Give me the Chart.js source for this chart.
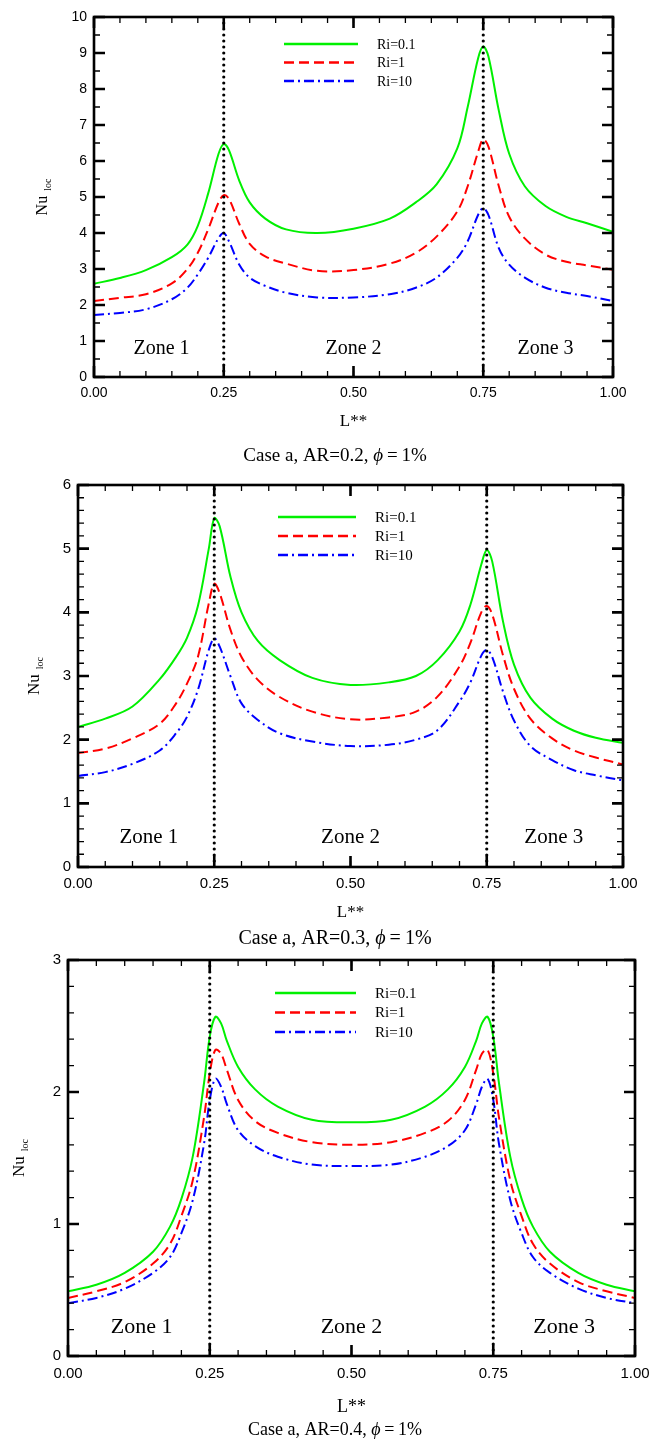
<!DOCTYPE html>
<html>
<head>
<meta charset="utf-8">
<script src="https://cdn.jsdelivr.net/npm/chart.js@4/dist/chart.umd.min.js"></script>
<style>
  html, body { margin: 0; padding: 0; background: #fff; }
  #wrap { position: relative; width: 656px; height: 1442px; }
  canvas { position: absolute; left: 0; }
</style>
</head>
<body>
<div id="wrap">
  <canvas id="c1" width="656" height="470" style="top:0px"></canvas>
  <canvas id="c2" width="656" height="480" style="top:470px"></canvas>
  <canvas id="c3" width="656" height="492" style="top:950px"></canvas>
</div>
<script>
// ---------------- DATA ----------------
const seriesLabels = ['Ri=0.1', 'Ri=1', 'Ri=10'];
const zoneLabels = ['Zone 1', 'Zone 2', 'Zone 3'];
const zoneBounds = [0.25, 0.75];
const xTickValues = [0, 0.25, 0.5, 0.75, 1.0];

// Case a, AR=0.2
const xAR02 = [0,0.05,0.1,0.15,0.18,0.2,0.22,0.24,0.25,0.26,0.28,0.3,0.33,0.37,0.43,0.5,0.57,0.62,0.66,0.7,0.72,0.74,0.75,0.76,0.78,0.8,0.83,0.87,0.91,0.95,1.0];
const ri01AR02 = [2.59,2.75,2.97,3.33,3.68,4.2,5.1,6.2,6.47,6.3,5.45,4.85,4.4,4.1,4.0,4.12,4.4,4.85,5.35,6.35,7.5,8.85,9.18,8.9,7.4,6.2,5.3,4.75,4.45,4.27,4.03];
const ri1AR02  = [2.11,2.2,2.3,2.6,3.0,3.45,4.1,4.85,5.05,4.95,4.25,3.7,3.35,3.15,2.95,2.97,3.15,3.45,3.9,4.6,5.3,6.25,6.6,6.4,5.3,4.45,3.85,3.4,3.2,3.1,2.98];
const ri10AR02 = [1.72,1.78,1.88,2.16,2.48,2.85,3.31,3.86,4.0,3.77,3.12,2.76,2.53,2.34,2.21,2.21,2.3,2.48,2.76,3.31,3.77,4.5,4.69,4.5,3.58,3.12,2.76,2.48,2.34,2.25,2.11];
const yTicksAR02 = [0,1,2,3,4,5,6,7,8,9,10];

// Case a, AR=0.3
const xAR03 = [0,0.05,0.1,0.15,0.18,0.2,0.22,0.24,0.25,0.26,0.28,0.3,0.33,0.37,0.43,0.5,0.57,0.62,0.66,0.7,0.72,0.74,0.75,0.76,0.78,0.8,0.83,0.87,0.91,0.95,1.0];
const ri01AR03 = [2.2,2.33,2.52,2.95,3.3,3.6,4.1,5.0,5.48,5.35,4.55,4.0,3.55,3.25,2.97,2.86,2.9,3.0,3.25,3.7,4.12,4.75,4.98,4.8,3.85,3.18,2.66,2.33,2.14,2.03,1.95];
const ri1AR03  = [1.79,1.86,2.02,2.25,2.57,2.88,3.3,4.14,4.45,4.3,3.72,3.3,2.94,2.67,2.44,2.32,2.35,2.44,2.68,3.15,3.52,4.0,4.1,3.97,3.32,2.8,2.33,2.02,1.83,1.72,1.61];
const ri10AR03 = [1.43,1.49,1.62,1.83,2.1,2.36,2.78,3.41,3.59,3.46,2.99,2.57,2.31,2.1,1.97,1.9,1.92,2.0,2.15,2.6,2.9,3.32,3.41,3.3,2.75,2.3,1.9,1.68,1.52,1.44,1.36];
const yTicksAR03 = [0,1,2,3,4,5,6];

// Case a, AR=0.4
const xAR04 = [0,0.05,0.1,0.15,0.18,0.2,0.22,0.24,0.25,0.26,0.27,0.28,0.3,0.33,0.37,0.43,0.5,0.57,0.63,0.67,0.7,0.72,0.73,0.74,0.75,0.76,0.78,0.8,0.82,0.85,0.9,0.95,1.0];
const ri01AR04 = [0.49,0.54,0.63,0.79,0.98,1.19,1.51,2.07,2.42,2.57,2.52,2.39,2.19,2.02,1.89,1.79,1.77,1.79,1.89,2.02,2.19,2.39,2.52,2.57,2.42,2.07,1.51,1.19,0.98,0.79,0.63,0.54,0.49];
const ri1AR04  = [0.44,0.49,0.56,0.7,0.85,1.06,1.33,1.81,2.14,2.32,2.29,2.17,1.94,1.78,1.69,1.62,1.6,1.62,1.69,1.78,1.94,2.17,2.29,2.32,2.14,1.81,1.33,1.06,0.85,0.7,0.56,0.49,0.44];
const ri10AR04 = [0.4,0.44,0.51,0.63,0.75,0.93,1.18,1.61,1.94,2.1,2.04,1.91,1.71,1.59,1.51,1.45,1.44,1.45,1.51,1.59,1.71,1.91,2.04,2.1,1.94,1.61,1.18,0.93,0.75,0.63,0.51,0.44,0.4];
const yTicksAR04 = [0,1,2,3];

const captionsText = ['Case a, AR=0.2,', 'Case a, AR=0.3,', 'Case a, AR=0.4,'];

// ---------------- STYLE ----------------
const SANS = '"Liberation Sans", Arial, sans-serif';
const SERIF = '"Liberation Serif", "Times New Roman", serif';
const lineStyles = [
  { color: '#00f000', dash: [] },
  { color: '#ff0000', dash: [10, 5] },
  { color: '#0000ff', dash: [10, 4, 2, 4] }
];

function makeChart(id, opt) {
  const canvas = document.getElementById(id);
  const W = canvas.width, H = canvas.height;
  const A = opt.area;
  const datasets = [];
  opt.series.forEach((vals, i) => {
    datasets.push({
      label: seriesLabels[i],
      data: opt.x.map((x, k) => ({ x: x, y: vals[k] })),
      borderColor: lineStyles[i].color,
      borderDash: lineStyles[i].dash,
      borderWidth: 2,
      pointRadius: 0,
      fill: false,
      tension: 0.35,
      order: 2
    });
  });
  zoneBounds.forEach(b => {
    datasets.push({
      label: 'bound',
      data: [{ x: b, y: 0 }, { x: b, y: opt.yTicks[opt.yTicks.length - 1] }],
      borderColor: '#000',
      borderDash: [0, 6],
      borderCapStyle: 'round',
      borderWidth: 3.2,
      pointRadius: 0,
      tension: 0,
      fill: false,
      order: 1
    });
  });

  const decor = {
    id: 'decor',
    afterDatasetsDraw(chart) {
      const ctx = chart.ctx;
      const xs = chart.scales.x, ys = chart.scales.y;
      const L = chart.chartArea.left, R = chart.chartArea.right, T = chart.chartArea.top, B = chart.chartArea.bottom;
      ctx.save();
      ctx.strokeStyle = '#000';
      ctx.lineCap = 'butt';
      const tick = (v, isX, len, w) => {
        ctx.lineWidth = w;
        ctx.beginPath();
        if (isX) {
          const p = xs.getPixelForValue(v);
          ctx.moveTo(p, B); ctx.lineTo(p, B - len);
          ctx.moveTo(p, T); ctx.lineTo(p, T + len);
        } else {
          const p = ys.getPixelForValue(v);
          ctx.moveTo(L, p); ctx.lineTo(L + len, p);
          ctx.moveTo(R, p); ctx.lineTo(R - len, p);
        }
        ctx.stroke();
      };
      for (let k = 0; k <= Math.round(1 / opt.xMinor); k++) tick(k * opt.xMinor, true, 6, 1.3);
      const yMax = opt.yTicks[opt.yTicks.length - 1];
      for (let k = 0; k <= Math.round(yMax / opt.yMinor); k++) tick(k * opt.yMinor, false, 6, 1.3);
      xTickValues.forEach(v => tick(v, true, 11, 2.6));
      opt.yTicks.forEach(v => tick(v, false, 11, 2.6));
      ctx.lineWidth = 2.6;
      ctx.strokeRect(L, T, R - L, B - T);
      ctx.restore();
    },
    afterDraw(chart) {
      const ctx = chart.ctx;
      const xs = chart.scales.x, ys = chart.scales.y;
      ctx.save();
      ctx.fillStyle = '#000';
      // legend
      const lg = opt.legend;
      chart.data.datasets.slice(0, 3).forEach((ds, i) => {
        const y = lg.y0 + i * lg.gap;
        ctx.strokeStyle = ds.borderColor;
        ctx.lineWidth = 2.5;
        ctx.setLineDash(ds.borderDash);
        ctx.beginPath();
        ctx.moveTo(lg.x0, y); ctx.lineTo(lg.x1, y);
        ctx.stroke();
        ctx.setLineDash([]);
        ctx.font = lg.size + 'px ' + SERIF;
        ctx.textBaseline = 'middle';
        ctx.textAlign = 'left';
        ctx.fillText(ds.label, lg.tx, y + 1);
      });
      // zone labels
      ctx.font = opt.zoneSize + 'px ' + SERIF;
      ctx.textAlign = 'center';
      ctx.textBaseline = 'middle';
      opt.zonePos.forEach((p, i) => {
        ctx.fillText(zoneLabels[i], xs.getPixelForValue(p[0]), ys.getPixelForValue(p[1]));
      });
      // x title
      ctx.font = opt.xTitleSize + 'px ' + SERIF;
      ctx.fillText('L**', (chart.chartArea.left + chart.chartArea.right) / 2, opt.xTitleY);
      // caption
      const cap = opt.caption;
      const segs = [
        { t: cap.text + ' ', f: cap.size + 'px ' + SERIF },
        { t: '\u03D5', f: 'italic ' + cap.size + 'px ' + SERIF },
        { t: '\u2009=\u20091%', f: cap.size + 'px ' + SERIF }
      ];
      let tot = 0;
      segs.forEach(s => { ctx.font = s.f; s.w = ctx.measureText(s.t).width; tot += s.w; });
      let cx = cap.cx - tot / 2;
      ctx.textAlign = 'left';
      segs.forEach(s => { ctx.font = s.f; ctx.fillText(s.t, cx, cap.y); cx += s.w; });
      // y title
      const yt = opt.yTitle;
      const cy = (chart.chartArea.top + chart.chartArea.bottom) / 2;
      ctx.translate(yt.x, cy);
      ctx.rotate(-Math.PI / 2);
      ctx.font = yt.size + 'px ' + SERIF;
      const wNu = ctx.measureText('Nu').width;
      ctx.font = yt.sub + 'px ' + SERIF;
      const wLoc = ctx.measureText('loc').width;
      const gap = 5;
      const start = -(wNu + gap + wLoc) / 2;
      ctx.textAlign = 'left';
      ctx.textBaseline = 'middle';
      ctx.font = yt.size + 'px ' + SERIF;
      ctx.fillText('Nu', start, 0);
      ctx.font = yt.sub + 'px ' + SERIF;
      ctx.fillText('loc', start + wNu + gap, 5);
      ctx.restore();
    }
  };

  return new Chart(canvas, {
    type: 'line',
    data: { datasets },
    options: {
      responsive: false,
      animation: false,
      devicePixelRatio: 1,
      layout: { padding: { left: 0, top: A.t, right: W - A.r, bottom: 0 } },
      scales: {
        x: {
          type: 'linear', min: 0, max: 1,
          grid: { display: false, drawTicks: false },
          border: { display: false },
          afterBuildTicks: s => { s.ticks = xTickValues.map(v => ({ value: v })); },
          ticks: {
            autoSkip: false, maxRotation: 0, padding: opt.xTickPad, color: '#000',
            font: { family: SANS, size: opt.tickSize },
            callback: v => Number(v).toFixed(2)
          },
          afterFit: s => { s.height = H - A.b; s.paddingLeft = 0; s.paddingRight = 0; }
        },
        y: {
          type: 'linear', min: 0, max: opt.yTicks[opt.yTicks.length - 1],
          grid: { display: false, drawTicks: false },
          border: { display: false },
          afterBuildTicks: s => { s.ticks = opt.yTicks.map(v => ({ value: v })); },
          ticks: {
            autoSkip: false, padding: 7, color: '#000',
            font: { family: SANS, size: opt.tickSize },
            callback: v => String(v)
          },
          afterFit: s => { s.width = A.l; s.paddingTop = 0; s.paddingBottom = 0; }
        }
      },
      plugins: { legend: { display: false }, tooltip: { enabled: false } }
    },
    plugins: [decor]
  });
}

makeChart('c1', {
  x: xAR02, series: [ri01AR02, ri1AR02, ri10AR02], yTicks: yTicksAR02,
  xMinor: 0.05, yMinor: 0.5,
  area: { l: 94, r: 613, t: 17, b: 377 },
  tickSize: 14, xTickPad: 8,
  legend: { x0: 284, x1: 358, tx: 377, y0: 44, gap: 18.5, size: 14 },
  zoneSize: 20, zonePos: [[0.13, 0.78], [0.5, 0.78], [0.87, 0.78]],
  xTitleSize: 17, xTitleY: 422,
  caption: { text: captionsText[0], size: 19, cx: 335, y: 456 },
  yTitle: { x: 43, size: 16, sub: 10 }
});

makeChart('c2', {
  x: xAR03, series: [ri01AR03, ri1AR03, ri10AR03], yTicks: yTicksAR03,
  xMinor: 0.05, yMinor: 0.2,
  area: { l: 78, r: 623, t: 15, b: 397 },
  tickSize: 15, xTickPad: 8,
  legend: { x0: 278, x1: 356, tx: 375, y0: 47, gap: 19, size: 15 },
  zoneSize: 21, zonePos: [[0.13, 0.46], [0.5, 0.46], [0.873, 0.46]],
  xTitleSize: 17, xTitleY: 443,
  caption: { text: captionsText[1], size: 20, cx: 335, y: 469 },
  yTitle: { x: 35, size: 17, sub: 10 }
});

makeChart('c3', {
  x: xAR04, series: [ri01AR04, ri1AR04, ri10AR04], yTicks: yTicksAR04,
  xMinor: 0.05, yMinor: 0.2,
  area: { l: 68, r: 635, t: 10, b: 406 },
  tickSize: 15, xTickPad: 9,
  legend: { x0: 275, x1: 356, tx: 375, y0: 43, gap: 19.5, size: 15 },
  zoneSize: 22, zonePos: [[0.13, 0.22], [0.5, 0.22], [0.875, 0.22]],
  xTitleSize: 18, xTitleY: 457,
  caption: { text: captionsText[2], size: 18, cx: 335, y: 480 },
  yTitle: { x: 20, size: 17, sub: 10 }
});
</script>
</body>
</html>
